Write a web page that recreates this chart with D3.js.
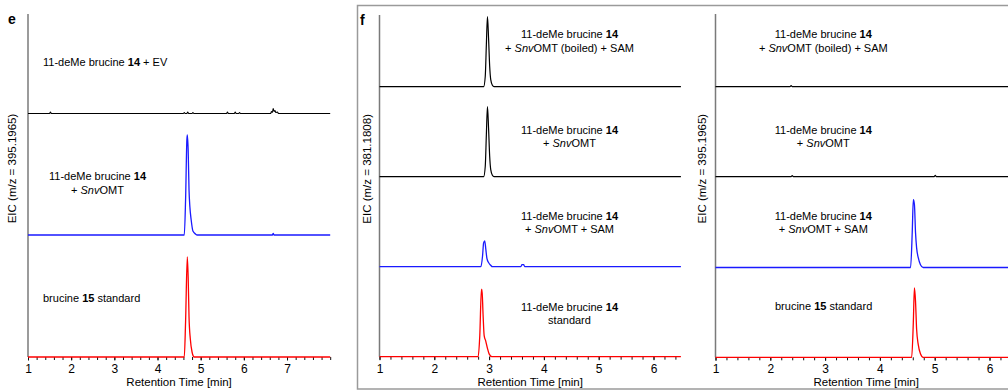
<!DOCTYPE html>
<html>
<head>
<meta charset="utf-8">
<script src="https://cdn.jsdelivr.net/npm/d3@7"></script>
<style>
  body { margin: 0; background: #fff; }
  text { font-family: "Liberation Sans", Arial, sans-serif; font-size: 11px; fill: #000; }
</style>
</head>
<body>
<svg id="chart" width="1008" height="391"></svg>
<script>
// traces: [retention time (min), relative intensity (%)]
const eEV = [[1,0],[1.5,0],[1.52,1.5],[1.54,0],[4.6,0],[4.62,1],[4.64,0],[4.68,0],[4.7,1.5],[4.72,0],[4.8,0],[4.82,1],[4.84,0],
  [5.6,0],[5.62,1.5],[5.64,0],[5.78,0],[5.8,1.5],[5.82,0],[5.88,0],[5.9,1],[5.92,0],
  [6.62,0],[6.64,2],[6.66,1],[6.68,5],[6.7,2],[6.72,3],[6.74,1],[6.78,1.5],[6.8,0],[8,0]];
const eSnv = [[1,0],[4.62,0],[4.65,35],[4.68,95],[4.69,100],[4.71,85],[4.73,45],[4.75,28],[4.78,15],[4.82,4],[4.88,1],[4.92,0],
  [6.66,0],[6.68,1.5],[6.7,0],[8,0]];
const eStd15 = [[1,0],[4.62,0],[4.65,35],[4.69,100],[4.71,80],[4.73,40],[4.76,18],[4.8,5],[4.85,0],[8,0]];

const fBoiled381 = [[1,0],[2.9,0],[2.93,15],[2.95,60],[2.97,100],[2.99,70],[3.01,30],[3.03,10],[3.06,2],[3.09,0],[6.5,0]];
const fSnv381 = [[1,0],[2.9,0],[2.93,15],[2.95,60],[2.97,100],[2.99,70],[3.01,30],[3.03,10],[3.06,2],[3.09,0],[6.5,0]];
const fSam381 = [[1,0],[2.85,0],[2.88,15],[2.9,34],[2.92,37],[2.94,25],[2.96,12],[2.99,6],[3.03,2],[3.06,0],
  [3.58,0],[3.6,3],[3.63,3],[3.65,0],[6.5,0]];
const fStd14 = [[1,0],[2.8,0],[2.83,30],[2.86,96],[2.87,96],[2.89,60],[2.91,30],[2.94,22],[2.97,12],[3.0,4],[3.05,0],[6.5,0]];

const fBoiled395 = [[1,0],[2.36,0],[2.38,1.5],[2.4,0],[6.5,0]];
const fSnv395 = [[1,0],[2.38,0],[2.4,1.5],[2.42,0],[4.99,0],[5.01,2],[5.03,0],[6.5,0]];
const fSam395 = [[1,0],[4.56,0],[4.59,50],[4.61,97],[4.63,90],[4.65,50],[4.67,28],[4.7,14],[4.74,4],[4.79,0],[6.5,0]];
const fStd15 = [[1,0],[4.58,0],[4.61,50],[4.63,99],[4.65,80],[4.67,40],[4.7,18],[4.74,5],[4.79,0],[6.5,0]];

const ticksE = [1,2,3,4,5,6,7];
const ticksF = [1,2,3,4,5,6];
const xTitle = "Retention Time [min]";
const yTitle395 = "EIC (m/z = 395.1965)";
const yTitle381 = "EIC (m/z = 381.1808)";

// labels: lines of [text, style] parts (b = bold, i = italic)
const lblEV = [[["11-deMe brucine ",""],["14","b"],[" + EV",""]]];
const lblSnv = [[["11-deMe brucine ",""],["14","b"]],[["+ ",""],["Snv","i"],["OMT",""]]];
const lblStd15 = [[["brucine ",""],["15","b"],[" standard",""]]];
const lblBoiled = [[["11-deMe brucine ",""],["14","b"]],[["+ ",""],["Snv","i"],["OMT (boiled) + SAM",""]]];
const lblSam = [[["11-deMe brucine ",""],["14","b"]],[["+ ",""],["Snv","i"],["OMT + SAM",""]]];
const lblStd14 = [[["11-deMe brucine ",""],["14","b"]],[["standard",""]]];

const BLUE = "#1a1aff", RED = "#ff0000", BLACK = "#000";

const svg = d3.select("#chart");

// frame round panel f
svg.append("rect")
  .attr("x", 357.5).attr("y", 5.5)
  .attr("width", 680).attr("height", 383.5)
  .attr("fill", "none").attr("stroke", "#9a9a9a").attr("stroke-width", 1.5);

const panels = [
  {letter: "e", lx: 8, ly: 24, xr: [28, 330.2], dom: [1, 8], top: 14, px: 100, ticks: ticksE,
   yTitle: yTitle395, yTitleX: 16,
   rows: [
     {data: eEV, color: BLACK, base: 113.5, w: 1.1, label: lblEV, anchor: "start", tx: 43, ty: [65.5]},
     {data: eSnv, color: BLUE, base: 235, w: 1.3, label: lblSnv, anchor: "middle", tx: 97.5, ty: [180, 193.5]},
     {data: eStd15, color: RED, base: 357, w: 1.3, label: lblStd15, anchor: "start", tx: 43, ty: [301.5]}
   ]},
  {letter: "f", lx: 360, ly: 25, xr: [379.5, 680.9], dom: [1, 6.5], top: 15, px: 70, ticks: ticksF,
   yTitle: yTitle381, yTitleX: 370.5,
   rows: [
     {data: fBoiled381, color: BLACK, base: 86.7, w: 1.2, label: lblBoiled, anchor: "middle", tx: 569.5, ty: [38, 51.5]},
     {data: fSnv381, color: BLACK, base: 176.7, w: 1.2, label: lblSnv, anchor: "middle", tx: 569.5, ty: [133.5, 147]},
     {data: fSam381, color: BLUE, base: 266.7, w: 1.3, label: lblSam, anchor: "middle", tx: 569.5, ty: [220, 233]},
     {data: fStd14, color: RED, base: 356.7, w: 1.3, label: lblStd14, anchor: "middle", tx: 569.5, ty: [311, 324]}
   ]},
  {letter: "", xr: [715.5, 1016.9], dom: [1, 6.5], top: 14, px: 70, ticks: ticksF,
   yTitle: yTitle395, yTitleX: 706,
   rows: [
     {data: fBoiled395, color: BLACK, base: 86.7, w: 1.2, label: lblBoiled, anchor: "middle", tx: 823.3, ty: [38, 51.5]},
     {data: fSnv395, color: BLACK, base: 176.7, w: 1.2, label: lblSnv, anchor: "middle", tx: 823.3, ty: [133.5, 147]},
     {data: fSam395, color: BLUE, base: 267.5, w: 1.3, label: lblSam, anchor: "middle", tx: 823.3, ty: [220, 233]},
     {data: fStd15, color: RED, base: 357.3, w: 1.3, label: lblStd15, anchor: "start", tx: 775, ty: [310]}
   ]}
];

function richText(g, lines, anchor, x, ys) {
  lines.forEach((parts, i) => {
    const t = g.append("text")
      .attr("x", x).attr("y", ys[i])
      .attr("text-anchor", anchor);
    parts.forEach(([s, st]) => {
      t.append("tspan")
        .attr("font-weight", st === "b" ? "bold" : null)
        .attr("font-style", st === "i" ? "italic" : null)
        .text(s);
    });
  });
}

panels.forEach(p => {
  const g = svg.append("g");
  const x = d3.scaleLinear().domain(p.dom).range(p.xr);
  const last = p.rows[p.rows.length - 1].base;

  if (p.letter) {
    g.append("text").attr("x", p.lx).attr("y", p.ly)
      .style("font-weight", "bold").style("font-size", "14px").text(p.letter);
  }

  // y axis line
  g.append("line")
    .attr("x1", p.xr[0]).attr("x2", p.xr[0])
    .attr("y1", p.top).attr("y2", last)
    .attr("stroke", "#7a7a7a").attr("stroke-width", 1.5);

  g.append("text")
    .attr("transform", `translate(${p.yTitleX},${(p.top + last) / 2 - 17}) rotate(-90)`)
    .attr("text-anchor", "middle")
    .style("font-size", "11.5px")
    .text(p.yTitle);

  // x axis ticks, minor every 0.2 min
  const minor = d3.range(p.dom[0], p.dom[1] + 1e-6, 0.2);
  const axMinor = g.append("g").attr("transform", `translate(0,${last})`)
    .call(d3.axisBottom(x).tickValues(minor).tickSize(3).tickFormat(""));
  axMinor.select(".domain").remove();
  const axMajor = g.append("g").attr("transform", `translate(0,${last})`)
    .call(d3.axisBottom(x).tickValues(p.ticks).tickSize(3.5).tickPadding(4).tickFormat(d3.format("d")));
  axMajor.select(".domain").remove();
  g.selectAll(".tick line").attr("stroke", "#111");
  g.selectAll(".tick text").style("font-size", "12px").attr("fill", "#000");

  g.append("text")
    .attr("x", (p.xr[0] + x(p.dom[1] === 8 ? 8 : 6.5)) / 2)
    .attr("y", 385.5)
    .attr("text-anchor", "middle")
    .style("font-size", "11.5px")
    .text(xTitle);

  p.rows.forEach(r => {
    const y = d3.scaleLinear().domain([0, 100]).range([r.base, r.base - p.px]);
    const line = d3.line().x(d => x(d[0])).y(d => y(d[1])).curve(d3.curveMonotoneX);
    g.append("path")
      .datum(r.data)
      .attr("d", line)
      .attr("fill", "none")
      .attr("stroke", r.color)
      .attr("stroke-width", r.w)
      .attr("stroke-linejoin", "round");
    richText(g, r.label, r.anchor, r.tx, r.ty);
  });
});
</script>
</body>
</html>
